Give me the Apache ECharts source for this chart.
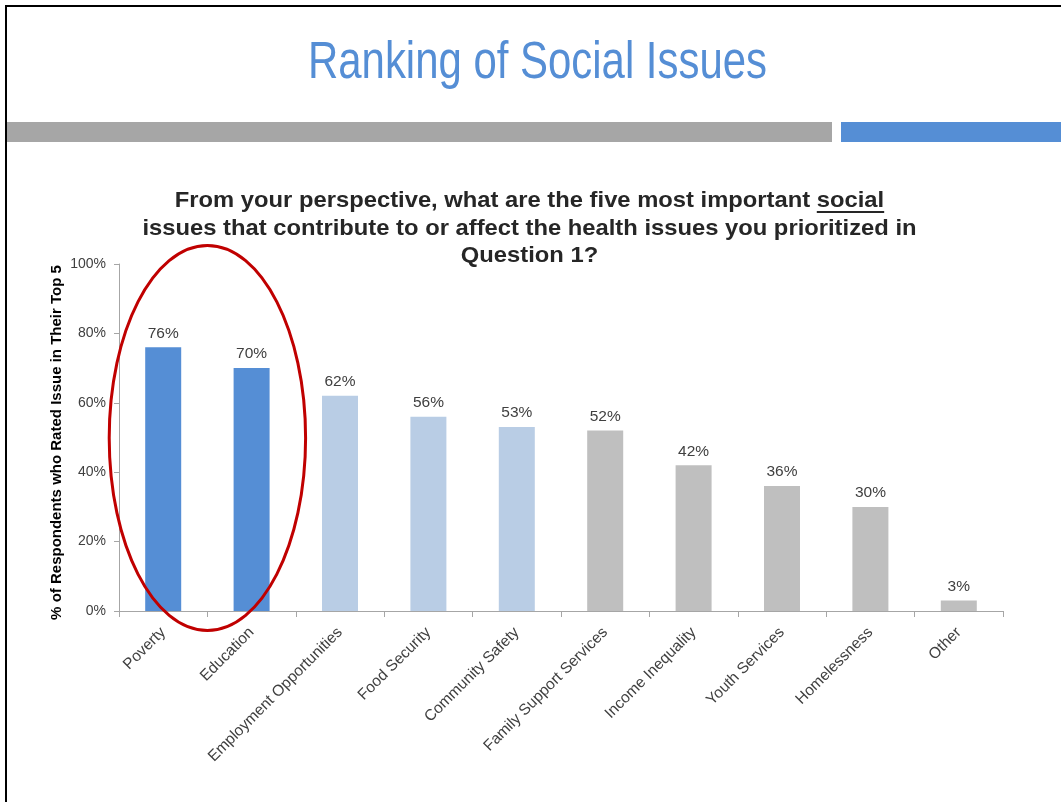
<!DOCTYPE html>
<html>
<head>
<meta charset="utf-8">
<script src="https://cdn.jsdelivr.net/npm/echarts@6/dist/echarts.min.js"></script>
<style>
  html, body { margin: 0; padding: 0; background: #fff; }
  #chart { width: 1061px; height: 802px; }
</style>
</head>
<body>
<div id="chart"></div>
<script>
// Social issues ranked by share of respondents placing them in their top 5
const categories = ['Poverty', 'Education', 'Employment Opportunities', 'Food Security',
  'Community Safety', 'Family Support Services', 'Income Inequality', 'Youth Services',
  'Homelessness', 'Other'];
const values = [76, 70, 62, 56, 53, 52, 42, 36, 30, 3];
// Colour tier per bar: 0 = top two, 1 = next three, 2 = the rest
const tiers = [0, 0, 1, 1, 1, 2, 2, 2, 2, 2];
const tierColors = ['#558ED5', '#B9CDE5', '#BFBFBF'];
const yTicks = [0, 20, 40, 60, 80, 100];
const highlighted = ['Poverty', 'Education'];

const titleText = 'Ranking of Social Issues';
const questionLines = [
  'From your perspective, what are the five most important social',
  'issues that contribute to or affect the health issues you prioritized in',
  'Question 1?'
];
const underlinedWord = 'social';

const sans = '"Liberation Sans", Arial, sans-serif';

// Text measuring helper for fitting the header text
const measureCtx = document.createElement('canvas').getContext('2d');
function textWidth(str, size, weight) {
  measureCtx.font = (weight || 'normal') + ' ' + size + 'px "Liberation Sans", Arial, sans-serif';
  return measureCtx.measureText(str).width;
}

const centerX = 529.5;

// Title: condensed to the slide's heading width
const titleSize = 51;
const titleScale = 459 / textWidth(titleText, titleSize, 'normal');

// Question text: fitted so the longest line spans the plot width
const qSize = 22;
const qScale = 774 / textWidth(questionLines[1], qSize, 'bold');
const qBaselines = [209, 237, 264];
const qCenterShift = 0.3465 * qSize;

const line0W = textWidth(questionLines[0], qSize, 'bold') * qScale;
const prefix = questionLines[0].slice(0, questionLines[0].lastIndexOf(underlinedWord));
const prefixW = textWidth(prefix, qSize, 'bold') * qScale;
const wordW = textWidth(underlinedWord, qSize, 'bold') * qScale;

const headerGraphics = [
  // slide frame edges
  { type: 'rect', shape: { x: 5, y: 5, width: 1061, height: 2 }, style: { fill: '#000' } },
  { type: 'rect', shape: { x: 5, y: 5, width: 2, height: 802 }, style: { fill: '#000' } },
  // header bands
  { type: 'rect', shape: { x: 7, y: 122, width: 825, height: 20 }, style: { fill: '#A6A6A6' } },
  { type: 'rect', shape: { x: 841, y: 122, width: 230, height: 20 }, style: { fill: '#558ED5' } },
  {
    type: 'text', x: centerX + 8, y: 82 - 0.3465 * titleSize, scaleX: titleScale, originX: 0,
    style: {
      text: titleText, align: 'center', verticalAlign: 'middle',
      fontFamily: sans, fontSize: titleSize, fill: '#558ED5'
    }
  }
];
questionLines.forEach((line, i) => {
  headerGraphics.push({
    type: 'text', x: centerX, y: qBaselines[i] - qCenterShift, scaleX: qScale,
    style: {
      text: line, align: 'center', verticalAlign: 'middle',
      fontFamily: sans, fontSize: qSize, fontWeight: 'bold', fill: '#262626'
    }
  });
});
headerGraphics.push({
  type: 'rect',
  shape: { x: centerX - line0W / 2 + prefixW, y: qBaselines[0] + 2, width: wordW, height: 2 },
  style: { fill: '#262626' }
});

const chart = echarts.init(document.getElementById('chart'));

chart.setOption({
  animation: false,
  backgroundColor: '#fff',
  grid: { left: 119, right: 58, top: 264, bottom: 191, containLabel: false },
  xAxis: {
    type: 'category',
    data: categories,
    axisLine: { lineStyle: { color: '#A6A6A6', width: 1 } },
    axisTick: { show: true, length: 6, lineStyle: { color: '#A6A6A6' } },
    axisLabel: { rotate: 45, margin: 19, fontFamily: sans, fontSize: 15.5, color: '#404040', interval: 0 }
  },
  yAxis: {
    type: 'value',
    min: yTicks[0],
    max: yTicks[yTicks.length - 1],
    interval: yTicks[1] - yTicks[0],
    name: '% of Respondents who Rated Issue in Their Top 5',
    nameLocation: 'middle',
    nameGap: 55,
    nameRotate: 90,
    nameMoveOverlap: false,
    nameTextStyle: {
      fontFamily: sans, fontSize: 15, fontWeight: 'bold', color: '#000',
      padding: [0, 10, 0, 0]
    },
    axisLine: { show: true, lineStyle: { color: '#A6A6A6' } },
    axisTick: { show: true, length: 5, lineStyle: { color: '#A6A6A6' } },
    splitLine: { show: false },
    axisLabel: { formatter: '{value}%', fontFamily: sans, fontSize: 14, color: '#404040', margin: 13 }
  },
  series: [{
    type: 'bar',
    barWidth: 36,
    data: values.map((v, i) => ({ value: v, itemStyle: { color: tierColors[tiers[i]] } })),
    label: {
      show: true,
      position: 'top',
      distance: 6,
      formatter: '{c}%',
      fontFamily: sans,
      fontSize: 15.5,
      color: '#404040'
    }
  }],
  graphic: headerGraphics
});

// Red ring around the two highlighted bars, sized from the axis scale
const p0 = chart.convertToPixel({ seriesIndex: 0 }, [highlighted[0], 0]);
const p1 = chart.convertToPixel({ seriesIndex: 0 }, [highlighted[1], 0]);
const pTop = chart.convertToPixel({ seriesIndex: 0 }, [highlighted[0], 100]);
headerGraphics.push({
  type: 'ellipse',
  shape: {
    cx: (p0[0] + p1[0]) / 2,
    cy: (p0[1] + pTop[1]) / 2 + 0.5,
    rx: (p1[0] - p0[0]) / 2 + 54,
    ry: (p0[1] - pTop[1]) / 2 + 19
  },
  style: { fill: 'none', stroke: '#C00000', lineWidth: 3 },
  z: 100
});
chart.setOption({ graphic: headerGraphics }, { replaceMerge: ['graphic'] });
</script>
</body>
</html>
